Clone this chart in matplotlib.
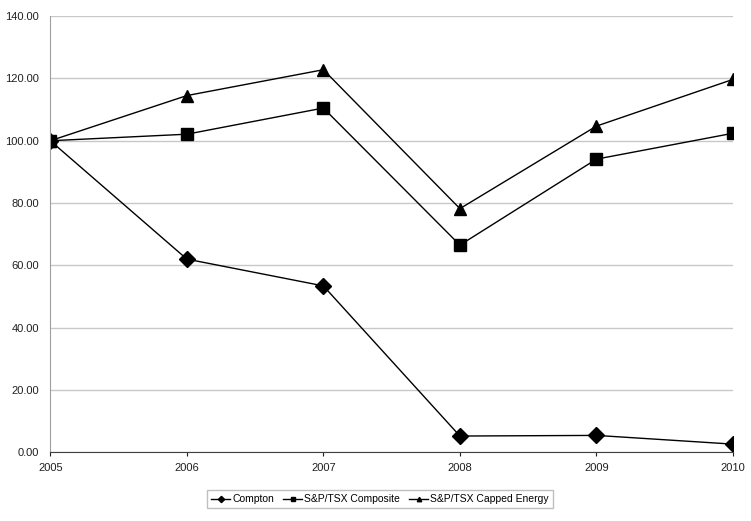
import matplotlib
matplotlib.use('Agg')
import matplotlib.pyplot as plt

plt.rcParams['font.family'] = ['Liberation Sans', 'DejaVu Sans']

years = [2005, 2006, 2007, 2008, 2009, 2010]
compton = [100.0, 62.0, 53.4, 5.2, 5.4, 2.6]
composite = [100.0, 102.1, 110.5, 66.5, 94.1, 102.4]
energy = [100.0, 114.5, 122.8, 78.2, 104.7, 119.7]

fig = plt.figure(figsize=(7.51, 5.21), dpi=100)
ax = fig.add_axes([0.067, 0.132, 0.909, 0.837])

ax.plot(years, compton, color='black', lw=1, marker='D', ms=8, label='Compton')
ax.plot(years, composite, color='black', lw=1, marker='s', ms=8, label='S&P/TSX Composite')
ax.plot(years, energy, color='black', lw=1, marker='^', ms=8, label='S&P/TSX Capped Energy')

ax.set_xlim(2005, 2010)
ax.set_ylim(0, 140)
ax.set_yticks(range(0, 141, 20))
ax.set_yticklabels(['%.2f' % v for v in range(0, 141, 20)])
ax.set_xticks(years)
ax.yaxis.grid(True, color='#c8c8c8', lw=1)
ax.set_axisbelow(True)
for s in ['top', 'right']:
    ax.spines[s].set_visible(False)
ax.spines['left'].set_color('#a0a0a0')
ax.spines['bottom'].set_color('#404040')
ax.tick_params(axis='both', labelsize=8, length=3, colors='#202020')
ax.tick_params(axis='x', pad=5)
ax.tick_params(axis='y', length=0, pad=8)

# legend centred a bit left of the axes centre, as in the reference
leg = ax.legend(loc='upper center', bbox_to_anchor=(0.483, -0.075), ncol=3, fontsize=7.5,
                frameon=True, fancybox=False, edgecolor='#b0b0b0', markerscale=0.4,
                handlelength=1.8, columnspacing=0.9, handletextpad=0.2)
leg.get_frame().set_linewidth(1)

fig.savefig('out.png', dpi=100)
